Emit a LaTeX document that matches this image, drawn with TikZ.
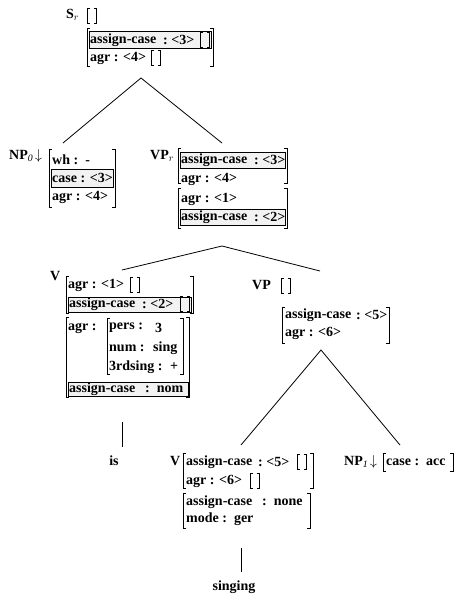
\documentclass[tikz,border=0pt]{standalone}
\usepackage{fontspec}
\setmainfont{Liberation Serif}
\usetikzlibrary{positioning}
\newcommand{\fsfont}{\fontsize{14}{16}\selectfont\bfseries}
% bracket pair of a feature structure: x1, y1, x2, y2
\newcommand{\fsbrackets}[4]{%
  \draw[brk] (#1+3,#2) -- (#1,#2) -- (#1,#4) -- (#1+3,#4);
  \draw[brk] (#3-3,#2) -- (#3,#2) -- (#3,#4) -- (#3-3,#4);}
% empty structure []: name, x-left, y-centre
\newcommand{\emptyfs}[3]{%
  \coordinate (#1) at (#2+4.5,#3);
  \draw[brk] (#2+2.5,#3-7.5) -- (#2,#3-7.5) -- (#2,#3+7.5) -- (#2+2.5,#3+7.5);
  \draw[brk] (#2+6.5,#3-7.5) -- (#2+9,#3-7.5) -- (#2+9,#3+7.5) -- (#2+6.5,#3+7.5);}
\begin{document}
\begin{tikzpicture}[x=1pt,y=-1pt,
  brk/.style={line width=0.9pt},
  shadedrow/.style={draw,line width=0.8pt,fill=black!5},
  fs/.style={anchor=west,inner sep=0pt,font=\fsfont},
  lbl/.style={anchor=west,inner sep=0pt,font=\fsfont},
  word/.style={inner sep=0pt,font=\fsfont},
  branch/.style={line width=0.8pt}]
\path[fill=white] (0,0) rectangle (463,603);
% S_r
\node[lbl] (sr) at (66,15) {S$_r$};
\emptyfs{sr-e}{87}{16}
\fsbrackets{87}{28}{213}{66}
\draw[shadedrow] (89,31) rectangle (211,48);
\node[fs] (sr-ac) at (90,40) {assign-case};
\node[fs] (sr-acv) at (163,40) {:\ <3>};
\emptyfs{sr-ace}{200}{40}
\node[fs] (sr-agr) at (90,58) {agr : <4>};
\emptyfs{sr-agre}{151}{58}
\coordinate (sr-foot) at (141,78);
\coordinate (np0-top) at (63,143);
\coordinate (vpr-top) at (222,143);
\draw[branch] (np0-top) -- (sr-foot) -- (vpr-top);
% NP_0
\node[lbl] (np0) at (9,156) {NP$_{\mathit{0}}\!\downarrow$};
\fsbrackets{49}{149}{115}{207}
\node[fs] (np0-wh) at (52,160) {wh :\ \ -};
\draw[shadedrow] (51,169) rectangle (113,187);
\node[fs] (np0-case) at (52,178) {case : <3>};
\node[fs] (np0-agr) at (52,197) {agr : <4>};
% VP_r
\node[lbl] (vpr) at (150,156) {VP$_r$};
\fsbrackets{178}{148}{287}{183}
\draw[shadedrow] (180,152) rectangle (285,168);
\node[fs] (vpr-ac) at (181,160) {assign-case};
\node[fs] (vpr-acv) at (254,160) {:\ <3>};
\node[fs] (vpr-agr) at (181,179) {agr : <4>};
\fsbrackets{178}{188}{287}{228}
\node[fs] (vpr-agr1) at (181,199) {agr : <1>};
\draw[shadedrow] (180,209) rectangle (285,225);
\node[fs] (vpr-ac2) at (181,217) {assign-case};
\node[fs] (vpr-ac2v) at (254,217) {:\ <2>};
\coordinate (vpr-foot) at (222,246);
\coordinate (v-top) at (122,270);
\coordinate (vp-top) at (320,271);
\draw[branch] (v-top) -- (vpr-foot) -- (vp-top);
% V
\node[lbl] (v) at (50,276) {V};
\fsbrackets{66}{276}{193}{313}
\node[fs] (v-agr) at (68,285) {agr : <1>};
\emptyfs{v-agre}{130}{285}
\draw[shadedrow] (68,297) rectangle (191,312);
\node[fs] (v-ac) at (69,304) {assign-case};
\node[fs] (v-acv) at (142,304) {:\ <2>};
\emptyfs{v-ace}{180}{304}
\fsbrackets{66}{317}{189}{397}
\node[fs] (v-agr2) at (68,328) {agr :};
\fsbrackets{107}{318}{183}{374}
\node[fs] (v-pers) at (109,328) {pers :};
\node[fs] (v-persv) at (155,328) {3};
\node[fs] (v-num) at (109,348) {num :};
\node[fs] (v-numv) at (153,348) {sing};
\node[fs] (v-3rd) at (109,367) {3rdsing :};
\node[fs] (v-3rdv) at (170,367) {+};
\draw[shadedrow] (68,382) rectangle (188,396);
\node[fs] (v-ac3) at (69,389) {assign-case};
\node[fs] (v-ac3v) at (145,389) {:\ \ nom};
\coordinate (v-foot) at (122,422);
\coordinate (is-top) at (122,447);
\node[word] (is) at (114,461) {is};
\draw[branch] (v-foot) -- (is-top);
% VP
\node[lbl] (vp) at (252,285) {VP};
\emptyfs{vp-e}{281}{286}
\fsbrackets{282}{307}{389}{343}
\node[fs] (vp-ac) at (285,315) {assign-case};
\node[fs] (vp-acv) at (356,315) {:\ <5>};
\node[fs] (vp-agr) at (285,333) {agr : <6>};
\coordinate (vp-foot) at (321,350);
\coordinate (v2-top) at (241,445);
\coordinate (np1-top) at (400,445);
\draw[branch] (v2-top) -- (vp-foot) -- (np1-top);
% lower V
\node[lbl] (v2) at (170,461) {V};
\fsbrackets{183}{453}{313}{488}
\node[fs] (v2-ac) at (186,462) {assign-case};
\node[fs] (v2-acv) at (258,462) {:\ <5>};
\emptyfs{v2-ace}{297}{462}
\node[fs] (v2-agr) at (186,481) {agr : <6>};
\emptyfs{v2-agre}{250}{481}
\fsbrackets{183}{493}{310}{528}
\node[fs] (v2-ac2) at (186,502) {assign-case};
\node[fs] (v2-ac2v) at (262,502) {:\ \ none};
\node[fs] (v2-mode) at (186,519) {mode :\ \ ger};
\coordinate (v2-foot) at (241,548);
\coordinate (sing-top) at (241,572);
\node[word] (singing) at (234,587) {singing};
\draw[branch] (v2-foot) -- (sing-top);
% NP_1
\node[lbl] (np1) at (344,462) {NP$_{\mathit{1}}\!\downarrow$};
\fsbrackets{383}{453}{453}{471}
\node[fs] (np1-case) at (386,462) {case :\ \ acc};
\end{tikzpicture}
\end{document}
